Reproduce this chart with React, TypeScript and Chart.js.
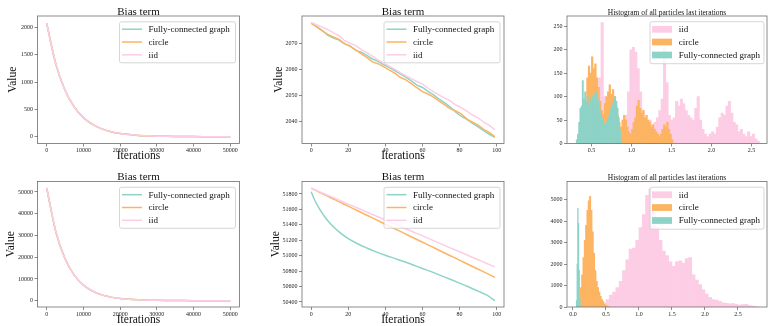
import React, { useEffect, useRef } from 'react';
import { Chart, registerables } from 'chart.js';
Chart.register(...registerables);

// ---------------- data ----------------
const SERIES_FC = 'Fully-connected graph';
const SERIES_CIRCLE = 'circle';
const SERIES_IID = 'iid';
const C_FC = '#8dd3c7';
const C_CIRCLE = '#fdb462';
const C_IID = '#fccde5';

// top-left: bias term over 50000 iterations
const decayIter = [0, 2500, 5000, 7500, 10000, 12500, 15000, 17500, 20000, 22500, 25000, 27500, 30000, 32500, 35000, 37500, 40000, 42500, 45000, 47500, 50000];
const tlFC = [2078, 1330, 851, 545, 349, 224, 143, 92, 59, 38, 24, 16, 10, 6.5, 4.2, 2.7, 1.7, 1.1, 0.7, 0.5, 0.3];
const tlCircle = [2078, 1331, 852, 546, 350, 224, 144, 92, 59, 38, 24, 16, 10, 6.5, 4.2, 2.7, 1.7, 1.1, 0.7, 0.5, 0.3];
const tlIid = [2078, 1333, 854, 548, 351, 225, 144, 93, 60, 38, 25, 16, 10, 6.6, 4.2, 2.7, 1.7, 1.1, 0.7, 0.5, 0.3];

// bottom-left
const blFC = [51840, 31620, 19290, 11770, 7180, 4380, 2670, 1630, 995, 607, 370, 226, 138, 84, 51, 31, 19, 12, 7, 4.4, 2.7];
const blCircle = [51870, 31640, 19300, 11775, 7185, 4383, 2672, 1631, 995, 607, 370, 226, 138, 84, 51, 31, 19, 12, 7, 4.4, 2.7];
const blIid = [51870, 31660, 19320, 11790, 7195, 4390, 2676, 1633, 996, 608, 371, 226, 138, 84, 51, 31, 19, 12, 7, 4.4, 2.7];

// top-middle: first 100 iterations
const tmIter = [0, 3, 6, 9, 12, 15, 18, 21, 24, 27, 30, 33, 36, 39, 42, 45, 48, 51, 54, 57, 60, 63, 66, 69, 72, 75, 78, 81, 84, 87, 90, 93, 96, 99];
const tmFC = [2077.8, 2076.4, 2074.9, 2073.0, 2072.0, 2071.2, 2069.8, 2069.0, 2067.3, 2066.6, 2065.4, 2064.0, 2063.1, 2061.9, 2060.8, 2059.6, 2058.3, 2057.1, 2055.6, 2054.0, 2053.1, 2051.6, 2050.3, 2048.6, 2047.2, 2045.6, 2043.6, 2042.0, 2040.9, 2039.4, 2038.0, 2036.6, 2035.2, 2034.0];
const tmCircle = [2077.6, 2076.3, 2074.8, 2073.4, 2072.4, 2071.5, 2069.9, 2068.8, 2067.5, 2066.0, 2064.6, 2062.9, 2062.2, 2061.1, 2059.8, 2058.6, 2057.0, 2056.0, 2054.6, 2053.0, 2051.5, 2050.6, 2049.4, 2047.9, 2046.4, 2044.9, 2044.1, 2042.9, 2041.0, 2039.8, 2038.7, 2037.1, 2035.9, 2034.3];
const tmIid = [2078.0, 2077.0, 2076.2, 2075.2, 2074.0, 2072.9, 2071.0, 2070.0, 2069.1, 2067.6, 2066.4, 2065.1, 2063.6, 2062.5, 2061.3, 2060.1, 2058.8, 2057.6, 2056.5, 2055.4, 2054.4, 2052.8, 2051.4, 2050.2, 2049.0, 2048.0, 2046.4, 2045.4, 2044.0, 2042.5, 2041.5, 2039.8, 2038.6, 2037.0];

// bottom-middle
const bmIter = [0, 2, 4, 6, 8, 10, 13, 16, 20, 25, 30, 35, 40, 45, 50, 55, 60, 65, 70, 75, 80, 85, 90, 95, 99];
const bmFC = [51830, 51715, 51625, 51548, 51482, 51425, 51352, 51290, 51222, 51155, 51100, 51050, 51005, 50965, 50925, 50880, 50835, 50790, 50742, 50694, 50645, 50594, 50540, 50485, 50415];
const bmCircle = [51875, 51852, 51828, 51805, 51782, 51758, 51723, 51688, 51642, 51583, 51525, 51467, 51408, 51350, 51292, 51233, 51175, 51117, 51058, 51000, 50942, 50883, 50825, 50767, 50720];
const bmIid = [51875, 51854, 51834, 51813, 51793, 51772, 51741, 51710, 51669, 51618, 51566, 51514, 51463, 51411, 51360, 51308, 51257, 51205, 51154, 51102, 51051, 50999, 50948, 50896, 50855];

// top-right histogram (bin start, bin width, counts)
const trFCStart = 0.31, trFCWidth = 0.015;
const trFCCounts = [8, 20, 45, 75, 80, 134, 95, 110, 90, 100, 80, 95, 85, 100, 90, 105, 112, 85, 95, 75, 65, 55, 50, 42, 38, 45, 55, 60, 70, 78, 85, 95, 100, 90, 75, 55, 30, 8];
const trCircleStart = 0.38, trCircleWidth = 0.02;
const trCircleCounts = [10, 40, 90, 140, 165, 150, 185, 160, 170, 140, 120, 90, 70, 60, 85, 100, 110, 125, 105, 115, 100, 80, 60, 45, 35, 50, 60, 50, 35, 25, 20, 30, 45, 55, 80, 92, 75, 65, 70, 55, 60, 50, 45, 35, 40, 30, 25, 20, 15, 20, 30, 40, 35, 45, 30, 20, 8];
const trIidStart = 0.59, trIidWidth = 0.03;
const trIidCounts = [140, 258, 100, 60, 40, 70, 50, 30, 20, 25, 40, 60, 110, 200, 205, 195, 160, 110, 70, 55, 45, 50, 40, 45, 55, 70, 95, 205, 130, 60, 50, 55, 90, 80, 95, 85, 70, 60, 55, 50, 75, 100, 50, 30, 20, 15, 20, 25, 20, 35, 55, 65, 60, 80, 90, 65, 45, 40, 25, 30, 20, 15, 25, 15, 20, 10, 5];

// bottom-right histogram
const brFCStart = 0.05, brFCWidth = 0.01;
const brFCCounts = [300, 2000, 4600, 3900, 1700, 400, 60];
const brCircleStart = 0.09, brCircleWidth = 0.02;
const brCircleCounts = [300, 900, 1500, 2300, 3100, 3800, 4500, 4950, 5150, 4500, 3500, 2500, 1700, 1200, 900, 700, 500, 350, 250, 150, 80, 40, 15];
const brIidStart = 0.45, brIidWidth = 0.05;
const brIidCounts = [150, 350, 550, 700, 900, 1200, 1700, 2200, 2700, 2750, 3100, 3700, 4300, 5200, 5500, 4700, 3700, 3100, 2600, 2400, 2100, 1900, 2100, 2150, 2050, 2250, 2300, 1500, 1250, 1050, 800, 600, 450, 350, 320, 260, 200, 170, 150, 160, 120, 90, 110, 130, 70, 40, 20];

// ticks
const decayXTicks = [0, 10000, 20000, 30000, 40000, 50000];
const decayXLabels = ['0', '10000', '20000', '30000', '40000', '50000'];
const tlYTicks = [0, 500, 1000, 1500, 2000];
const tlYLabels = ['0', '500', '1000', '1500', '2000'];
const blYTicks = [0, 10000, 20000, 30000, 40000, 50000];
const blYLabels = ['0', '10000', '20000', '30000', '40000', '50000'];
const iterXTicks = [0, 20, 40, 60, 80, 100];
const iterXLabels = ['0', '20', '40', '60', '80', '100'];
const tmYTicks = [2040, 2050, 2060, 2070];
const tmYLabels = ['2040', '2050', '2060', '2070'];
const bmYTicks = [50400, 50600, 50800, 51000, 51200, 51400, 51600, 51800];
const bmYLabels = ['50400', '50600', '50800', '51000', '51200', '51400', '51600', '51800'];
const trXTicks = [0.5, 1.0, 1.5, 2.0, 2.5];
const trXLabels = ['0.5', '1.0', '1.5', '2.0', '2.5'];
const trYTicks = [0, 50, 100, 150, 200, 250];
const trYLabels = ['0', '50', '100', '150', '200', '250'];
const brXTicks = [0.0, 0.5, 1.0, 1.5, 2.0, 2.5];
const brXLabels = ['0.0', '0.5', '1.0', '1.5', '2.0', '2.5'];
const brYTicks = [0, 1000, 2000, 3000, 4000, 5000];
const brYLabels = ['0', '1000', '2000', '3000', '4000', '5000'];

const BIAS_TITLE = 'Bias term';
const HIST_TITLE = 'Histogram of all particles last iterations';
const X_TITLE = 'Iterations';
const Y_TITLE = 'Value';

// ---------------- styling helpers ----------------
const FONT = '"Liberation Serif", "Times New Roman", serif';
const SPINE = '#6e6e6e';

function pts(xs: number[], ys: number[]) {
  return xs.map((x, i) => ({ x, y: ys[i] }));
}
function bins(start: number, width: number, counts: number[]) {
  return counts.map((c, i) => ({ x: start + (i + 0.5) * width, y: c }));
}

function roundRect(ctx: CanvasRenderingContext2D, x: number, y: number, w: number, h: number, r: number) {
  ctx.beginPath();
  ctx.moveTo(x + r, y);
  ctx.lineTo(x + w - r, y);
  ctx.arcTo(x + w, y, x + w, y + r, r);
  ctx.lineTo(x + w, y + h - r);
  ctx.arcTo(x + w, y + h, x + w - r, y + h, r);
  ctx.lineTo(x + r, y + h);
  ctx.arcTo(x, y + h, x, y + h - r, r);
  ctx.lineTo(x, y + r);
  ctx.arcTo(x, y, x + r, y, r);
  ctx.closePath();
}

const decorPlugin = {
  id: 'decor',
  afterDraw(chart: any, _args: any, o: any) {
    const { ctx, chartArea: a } = chart;
    ctx.save();
    // frame (all four spines)
    ctx.strokeStyle = SPINE;
    ctx.lineWidth = 0.8;
    ctx.strokeRect(a.left, a.top, a.right - a.left, a.bottom - a.top);
    // title
    ctx.fillStyle = '#111';
    ctx.font = `${o.titleSize}px ${FONT}`;
    ctx.textAlign = 'center';
    ctx.textBaseline = 'alphabetic';
    ctx.fillText(o.title, (a.left + a.right) / 2, a.top - o.titleGap);
    // legend
    const lg = o.legend;
    const bx = a.right - lg.rightGap - lg.w;
    const by = a.top + lg.topGap;
    roundRect(ctx, bx, by, lg.w, lg.h, 2);
    ctx.fillStyle = 'rgba(255,255,255,0.8)';
    ctx.fill();
    ctx.strokeStyle = '#cccccc';
    ctx.lineWidth = 0.8;
    ctx.stroke();
    ctx.font = `9px ${FONT}`;
    ctx.textAlign = 'left';
    ctx.textBaseline = 'middle';
    lg.order.forEach((di: number, k: number) => {
      const ds = chart.data.datasets[di];
      const y = by + lg.rows[k];
      if (lg.kind === 'line') {
        ctx.beginPath();
        ctx.moveTo(bx + lg.h0, y);
        ctx.lineTo(bx + lg.h1, y);
        ctx.strokeStyle = ds.borderColor;
        ctx.lineWidth = 1.5;
        ctx.stroke();
      } else {
        ctx.fillStyle = ds.backgroundColor;
        ctx.fillRect(bx + lg.h0, y - 3.35, lg.h1 - lg.h0, 6.7);
      }
      ctx.fillStyle = '#111';
      ctx.fillText(ds.label, bx + lg.textX, y + 0.5);
    });
    ctx.restore();
  },
};

function scale(axis: 'x' | 'y', min: number, max: number, tickVals: number[], tickLabels: string[], size: number, title: string | null, titlePad: number) {
  return {
    type: 'linear',
    min,
    max,
    offset: false,
    stacked: axis === 'y' ? false : undefined,
    afterFit: (s: any) => {
      if (axis === 'x') s.height = size;
      else s.width = size;
    },
    afterBuildTicks: (s: any) => {
      s.ticks = tickVals.map((v) => ({ value: v }));
    },
    ticks: {
      autoSkip: false,
      maxRotation: 0,
      minRotation: 0,
      padding: axis === 'x' ? 0.5 : 1.5,
      color: '#222',
      font: { family: FONT, size: 6 },
      callback: (v: any) => {
        const i = tickVals.findIndex((t) => Math.abs(t - v) < 1e-9);
        return i >= 0 ? tickLabels[i] : '';
      },
    },
    grid: { display: true, offset: false, drawOnChartArea: false, drawTicks: true, tickLength: 3, tickColor: SPINE, tickWidth: 0.8, lineWidth: 0.8, color: SPINE },
    border: { display: false },
    title: title
      ? { display: true, text: title, color: '#111', font: { family: FONT, size: 11.5 }, padding: axis === 'x' ? { top: 0, bottom: titlePad } : { top: titlePad, bottom: 0 } }
      : { display: false },
  };
}

const LINE_LEGEND = { kind: 'line', order: [0, 1, 2], w: 116, h: 41, rightGap: 4, topGap: 5.8, rows: [7.4, 20.2, 33], h0: 2.5, h1: 22.5, textX: 29 };
const HIST_LEGEND = { kind: 'patch', order: [2, 1, 0], w: 114, h: 42, rightGap: 3, topGap: 5.7, rows: [7.6, 20.3, 33.3], h0: 2, h1: 22, textX: 28.7 };

// geometry of the grid (frame positions, px)
const COLS = [
  { x: 0, L: 37.5, R: 239.5 },
  { x: 256, L: 302, R: 504 },
  { x: 512, L: 567, R: 767 },
];
const ROWS = [
  { y: 0, T: 16, B: 143.5, xTitlePad: 0.6, titleGap: 1.3 },
  { y: 163, T: 181.5, B: 307, xTitlePad: -0.6, titleGap: 1.8 },
];

function lineDatasets(xs: number[], fc: number[], ci: number[], iid: number[], smooth: boolean) {
  const common = { pointRadius: 0, borderWidth: 1.5, fill: false, tension: 0, cubicInterpolationMode: smooth ? 'monotone' : 'default' };
  return [
    { ...common, label: SERIES_FC, data: pts(xs, fc), borderColor: C_FC, backgroundColor: C_FC, order: 2 },
    { ...common, label: SERIES_CIRCLE, data: pts(xs, ci), borderColor: C_CIRCLE, backgroundColor: C_CIRCLE, order: 1 },
    { ...common, label: SERIES_IID, data: pts(xs, iid), borderColor: C_IID, backgroundColor: C_IID, order: 0 },
  ];
}

function histDatasets(fc: any[], ci: any[], iid: any[]) {
  // all bars share one "stack" slot on the x axis so each dataset's bars take the full bin width;
  // the y axis is not stacked, so the histograms overlap like matplotlib's.
  const common = { barThickness: 'flex', categoryPercentage: 1, barPercentage: 1, stack: 'hist', borderWidth: 0 };
  return [
    { ...common, label: SERIES_FC, data: fc, backgroundColor: C_FC, order: 0 },
    { ...common, label: SERIES_CIRCLE, data: ci, backgroundColor: C_CIRCLE, order: 1 },
    { ...common, label: SERIES_IID, data: iid, backgroundColor: C_IID, order: 2 },
  ];
}

type PanelSpec = {
  col: number;
  row: number;
  type: 'line' | 'bar';
  datasets: any[];
  x: [number, number, number[], string[]];
  y: [number, number, number[], string[]];
  title: string;
  titleSize: number;
  yTitlePad: number | null;
  legend: any;
};

function buildConfig(p: PanelSpec) {
  const c = COLS[p.col];
  const r = ROWS[p.row];
  const yW = c.L - c.x;
  const padR = c.x + 256 - c.R;
  const padT = r.T - r.y;
  const xH = r.y + 163 - r.B;
  const hasTitles = p.yTitlePad !== null;
  return {
    type: p.type,
    data: { datasets: p.datasets },
    plugins: [decorPlugin],
    options: {
      animation: false,
      responsive: false,
      maintainAspectRatio: false,
      events: [],
      layout: { padding: { left: 0, top: padT, right: padR, bottom: 0 } },
      scales: {
        x: scale('x', p.x[0], p.x[1], p.x[2], p.x[3], xH, hasTitles ? X_TITLE : null, r.xTitlePad),
        y: scale('y', p.y[0], p.y[1], p.y[2], p.y[3], yW, hasTitles ? Y_TITLE : null, p.yTitlePad ?? 0),
      },
      plugins: {
        legend: { display: false },
        title: { display: false },
        tooltip: { enabled: false },
        decor: { title: p.title, titleSize: p.titleSize, titleGap: r.titleGap, legend: p.legend },
      },
    },
  };
}

const PANELS: PanelSpec[] = [
  {
    col: 0, row: 0, type: 'line',
    datasets: lineDatasets(decayIter, tlFC, tlCircle, tlIid, true),
    x: [-2500, 52500, decayXTicks, decayXLabels],
    y: [-125, 2214, tlYTicks, tlYLabels],
    title: BIAS_TITLE, titleSize: 11, yTitlePad: 5.6, legend: LINE_LEGEND,
  },
  {
    col: 1, row: 0, type: 'line',
    datasets: lineDatasets(tmIter, tmFC, tmCircle, tmIid, false),
    x: [-4.95, 103.95, iterXTicks, iterXLabels],
    y: [2031.66, 2080.45, tmYTicks, tmYLabels],
    title: BIAS_TITLE, titleSize: 11, yTitlePad: 15.6, legend: LINE_LEGEND,
  },
  {
    col: 2, row: 0, type: 'bar',
    datasets: histDatasets(bins(trFCStart, trFCWidth, trFCCounts), bins(trCircleStart, trCircleWidth, trCircleCounts), bins(trIidStart, trIidWidth, trIidCounts)),
    x: [0.195, 2.695, trXTicks, trXLabels],
    y: [0, 272, trYTicks, trYLabels],
    title: HIST_TITLE, titleSize: 7.5, yTitlePad: null, legend: HIST_LEGEND,
  },
  {
    col: 0, row: 1, type: 'line',
    datasets: lineDatasets(decayIter, blFC, blCircle, blIid, true),
    x: [-2500, 52500, decayXTicks, decayXLabels],
    y: [-2913, 54831, blYTicks, blYLabels],
    title: BIAS_TITLE, titleSize: 11, yTitlePad: 3.9, legend: LINE_LEGEND,
  },
  {
    col: 1, row: 1, type: 'line',
    datasets: lineDatasets(bmIter, bmFC, bmCircle, bmIid, true),
    x: [-4.95, 103.95, iterXTicks, iterXLabels],
    y: [50335, 51962, bmYTicks, bmYLabels],
    title: BIAS_TITLE, titleSize: 11, yTitlePad: 12.9, legend: LINE_LEGEND,
  },
  {
    col: 2, row: 1, type: 'bar',
    datasets: histDatasets(bins(brFCStart, brFCWidth, brFCCounts), bins(brCircleStart, brCircleWidth, brCircleCounts), bins(brIidStart, brIidWidth, brIidCounts)),
    x: [-0.09, 2.94, brXTicks, brXLabels],
    y: [0, 5846, brYTicks, brYLabels],
    title: HIST_TITLE, titleSize: 7.5, yTitlePad: null, legend: HIST_LEGEND,
  },
];

function Panel({ spec }: { spec: PanelSpec }) {
  const ref = useRef<HTMLCanvasElement>(null);
  useEffect(() => {
    const chart = new Chart(ref.current as HTMLCanvasElement, buildConfig(spec) as any);
    return () => chart.destroy();
  }, [spec]);
  const c = COLS[spec.col];
  const r = ROWS[spec.row];
  return (
    <canvas
      ref={ref}
      width={256}
      height={163}
      style={{ position: 'absolute', left: c.x, top: r.y, width: 256, height: 163 }}
    />
  );
}

export default function App() {
  return (
    <div style={{ position: 'fixed', left: 0, top: 0, width: 768, height: 326, background: '#ffffff', overflow: 'hidden' }}>
      {PANELS.map((p, i) => (
        <Panel key={i} spec={p} />
      ))}
    </div>
  );
}
